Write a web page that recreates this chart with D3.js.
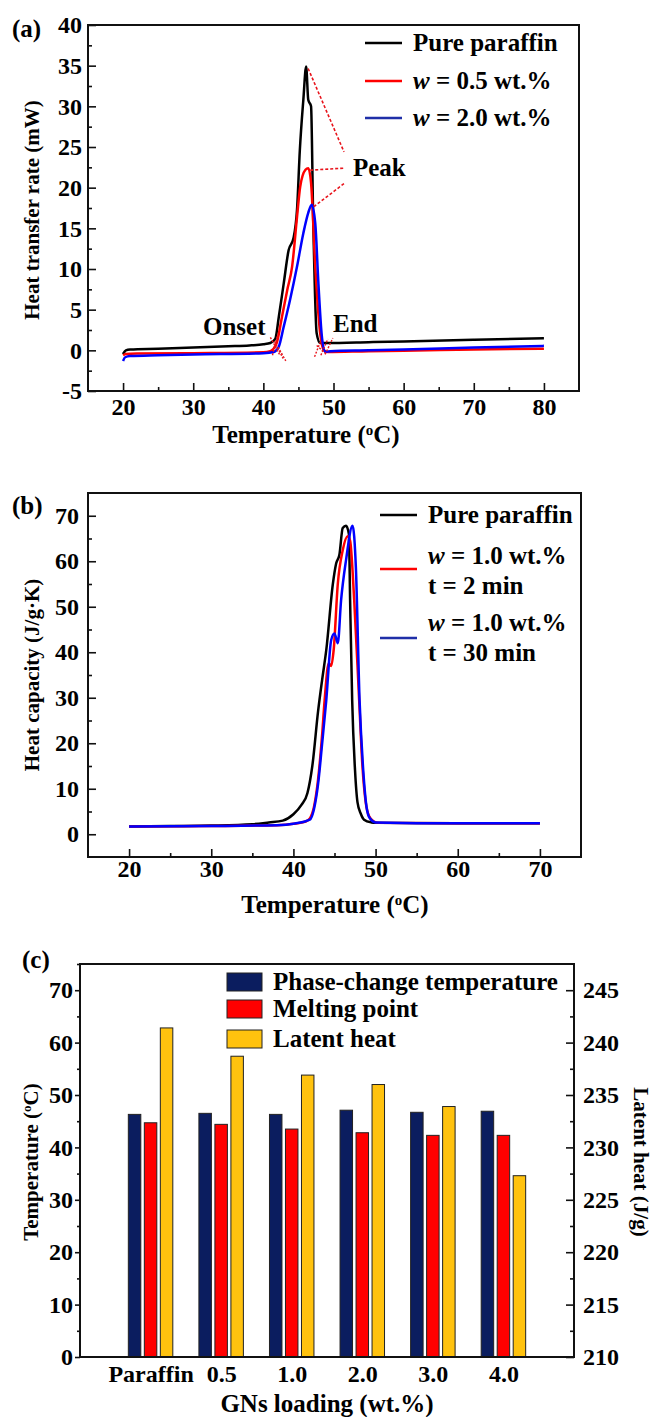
<!DOCTYPE html>
<html>
<head>
<meta charset="utf-8">
<script src="https://cdn.jsdelivr.net/npm/d3@7"></script>
<style>
  body { margin: 0; background: #fff; }
  text { font-family: "Liberation Serif", "Times New Roman", serif; font-weight: bold; fill: #000; }
</style>
</head>
<body>
<svg id="canvas"></svg>
<script>
// ---- data ----
// (a) heat transfer rate (mW) vs temperature (C)
const pureA = [[20,-0.45],[20.4,0.0],[21,0.1],[25,0.2],[30,0.35],[35,0.5],[38,0.6],[40,0.75],[41,0.9],[41.7,1.4],[42.2,4.1],[42.9,8.2],[43.6,12.3],[44.3,13.8],[44.8,17.3],[45.2,24.6],[45.7,30.8],[46.1,34.9],[46.4,30.8],[46.8,30],[47.1,16.4],[47.6,2.1],[48.1,0.9],[49,0.9],[55,1.0],[60,1.1],[70,1.3],[80,1.5]];
const w05A = [[20,-0.6],[20.4,-0.45],[22,-0.4],[30,-0.35],[40,-0.25],[41,-0.1],[41.9,0.9],[42.65,4.1],[43.4,7.4],[44.1,10.3],[44.8,16.4],[45.25,20.1],[46.0,22.2],[46.4,22.4],[46.8,20.6],[47.4,10.3],[48.1,2.1],[48.65,0],[49.2,-0.2],[55,-0.1],[60,-0.05],[70,0.1],[80,0.2]];
const w20A = [[20,-1.3],[20.3,-0.85],[21,-0.7],[25,-0.6],[30,-0.5],[40,-0.35],[41.5,-0.2],[42.2,0.45],[42.9,2.9],[43.8,6.2],[44.8,10.3],[45.7,14.4],[46.4,16.9],[46.9,17.9],[47.4,15.6],[47.85,8.2],[48.3,2.1],[48.8,-0.2],[49.5,-0.1],[55,0],[60,0.1],[70,0.35],[80,0.55]];
const peakEndsA = [[51.5,24.4],[51.5,22.4],[51.5,20.5]];
const onsetHatch = [[[41.0,1.6],[42.3,-0.5]],[[41.6,1.1],[42.8,-1.0]],[[42.1,0.4],[43.2,-1.3]],[[41.3,-0.6],[42.0,1.8]]];
const endHatch = [[[47.3,-0.8],[48.1,1.0]],[[48.2,-0.6],[49.2,1.4]],[[48.8,-0.5],[49.9,1.5]],[[47.6,0.6],[48.9,-0.4]]];

// (b) heat capacity (J/g.K) vs temperature (C)
const pureB = [[20,1.7],[25,1.8],[30,1.9],[35,2.2],[37,2.6],[38.7,3.0],[40,4.4],[41,6.5],[41.7,9],[42.3,15],[43,27],[43.5,34],[44,40.5],[44.8,55],[45.2,59.5],[45.6,61.5],[46,67.3],[46.4,67.8],[46.75,66],[46.9,51.4],[47.15,29.5],[47.5,14],[47.8,7],[48.2,4.5],[48.6,3.2],[49.5,2.6],[50,2.5],[60,2.4],[70,2.4]];
const t2B = [[20,1.7],[30,1.8],[38,2.0],[40,2.3],[41.5,2.8],[42,3.5],[42.5,6],[43,12],[43.5,22],[43.8,29.5],[44.3,37.6],[44.6,37.0],[44.9,40.5],[45.4,55],[46,62.4],[46.6,65.5],[46.9,64.5],[47.4,51.4],[48,29.5],[48.4,15],[48.8,7],[49.2,4],[49.8,2.8],[50.5,2.5],[60,2.4],[70,2.4]];
const t30B = [[20,1.7],[30,1.8],[38,2.0],[40,2.3],[42,3.2],[42.5,5.5],[43,11],[43.5,20],[44,29.5],[44.6,42.7],[45.0,44.1],[45.4,42],[45.8,51.4],[46.4,60.2],[47.2,67.8],[47.6,58.7],[48.05,29.5],[48.5,14],[48.9,6],[49.3,3.5],[50,2.6],[60,2.4],[70,2.4]];

// (c) bars
const loadings = ["Paraffin", "0.5", "1.0", "2.0", "3.0", "4.0"];
const phaseTemp = [46.3, 46.5, 46.3, 47.1, 46.7, 46.9];
const meltPoint = [44.7, 44.4, 43.5, 42.8, 42.3, 42.3];
const latentHeat = [241.4, 238.7, 236.9, 236.0, 233.9, 227.3];

// ---- drawing ----
const W = 654, H = 1417;
const svg = d3.select("#canvas").attr("width", W).attr("height", H);
const FS = 24;   // tick labels
const LFS = 25;  // legends, notes

function cleanAxis(g) {
	g.select(".domain").remove();
	g.selectAll("text").style("font-size", FS + "px").style("font-family", null);
	g.selectAll("line").attr("stroke", "#111").attr("stroke-width", 1.6);
}

function box(x, y) {
	svg.append("rect")
		.attr("x", x.range()[0]).attr("y", y.range()[1])
		.attr("width", x.range()[1] - x.range()[0])
		.attr("height", y.range()[0] - y.range()[1])
		.attr("fill", "none").attr("stroke", "#111").attr("stroke-width", 2);
}

function tempTitle(sel, cx, baseline, size) {
	const t = sel.append("text").attr("x", cx).attr("y", baseline)
		.attr("text-anchor", "middle").style("font-size", size + "px");
	t.append("tspan").text("Temperature (");
	t.append("tspan").attr("baseline-shift", "super").style("font-size", (size * 0.6) + "px").text("o");
	t.append("tspan").text("C)");
	return t;
}

function wLabel(sel, x, y, rest) {
	const t = sel.append("text").attr("x", x).attr("y", y).style("font-size", LFS + "px");
	t.append("tspan").style("font-style", "italic").text("w");
	t.append("tspan").text(rest);
	return t;
}

function curveAxes(x, y, xMajor, xMinor, yMajor, yMinor, padX, padY) {
	const y0 = y.range()[0], x0 = x.range()[0];
	svg.append("g").attr("transform", `translate(0,${y0})`)
		.call(d3.axisBottom(x).tickValues(xMajor).tickSizeInner(-8).tickSizeOuter(0).tickPadding(padX).tickFormat(d => String(d)))
		.call(cleanAxis);
	svg.append("g").attr("transform", `translate(0,${y0})`)
		.call(d3.axisBottom(x).tickValues(xMinor).tickSizeInner(-4).tickSizeOuter(0).tickFormat(""))
		.call(cleanAxis);
	svg.append("g").attr("transform", `translate(${x0},0)`)
		.call(d3.axisLeft(y).tickValues(yMajor).tickSizeInner(-8).tickSizeOuter(0).tickPadding(padY).tickFormat(d => String(d)))
		.call(cleanAxis);
	svg.append("g").attr("transform", `translate(${x0},0)`)
		.call(d3.axisLeft(y).tickValues(yMinor).tickSizeInner(-4).tickSizeOuter(0).tickFormat(""))
		.call(cleanAxis);
	box(x, y);
}

// ===== (a) =====
const xA = d3.scaleLinear().domain([15, 85]).range([88, 579]);
const yA = d3.scaleLinear().domain([-5, 40]).range([391, 25]);
curveAxes(xA, yA, d3.range(20, 81, 10), d3.range(25, 76, 10), d3.range(-5, 41, 5), d3.range(-2.5, 38, 5), 7, 6);

const lineA = d3.line().x(d => xA(d[0])).y(d => yA(d[1])).curve(d3.curveMonotoneX);
const seriesA = [
	{data: pureA, color: "#000"},
	{data: w05A, color: "#ff0000"},
	{data: w20A, color: "#0000ff"}
];
svg.selectAll(".lineA").data(seriesA).enter().append("path")
	.attr("class", "lineA")
	.attr("d", d => lineA(d.data))
	.attr("fill", "none").attr("stroke", d => d.color).attr("stroke-width", 2.5);

// peak / onset / end annotations
seriesA.forEach((s, i) => {
	const pk = s.data.reduce((a, b) => b[1] > a[1] ? b : a);
	svg.append("line")
		.attr("x1", xA(pk[0]) + 2).attr("y1", yA(pk[1]) + 2)
		.attr("x2", xA(peakEndsA[i][0])).attr("y2", yA(peakEndsA[i][1]))
		.attr("stroke", "#e8141c").attr("stroke-width", 1.6).attr("stroke-dasharray", "3,2");
});
onsetHatch.concat(endHatch).forEach(seg => {
	svg.append("line")
		.attr("x1", xA(seg[0][0])).attr("y1", yA(seg[0][1]))
		.attr("x2", xA(seg[1][0])).attr("y2", yA(seg[1][1]))
		.attr("stroke", "#e8141c").attr("stroke-width", 1.4).attr("stroke-dasharray", "2,1.5");
});
svg.append("text").attr("x", 353).attr("y", 176).style("font-size", LFS + "px").text("Peak");
svg.append("text").attr("x", 203).attr("y", 335).style("font-size", LFS + "px").text("Onset");
svg.append("text").attr("x", 333).attr("y", 332).style("font-size", LFS + "px").text("End");

// legend (a)
const legA = [
	{y: 43, color: "#000", main: "Pure paraffin"},
	{y: 81, color: "#ff0000", w: " = 0.5 wt.%"},
	{y: 118, color: "#1f2fa8", w: " = 2.0 wt.%"}
];
legA.forEach(d => {
	svg.append("line").attr("x1", 365).attr("x2", 402).attr("y1", d.y).attr("y2", d.y)
		.attr("stroke", d.color).attr("stroke-width", 2.5);
	if (d.main) svg.append("text").attr("x", 413).attr("y", d.y + 8).style("font-size", LFS + "px").text(d.main);
	else wLabel(svg, 413, d.y + 8, d.w);
});

svg.append("text").attr("transform", "translate(39,210) rotate(-90)")
	.attr("text-anchor", "middle").style("font-size", "21px").text("Heat transfer rate (mW)");
tempTitle(svg, 306, 443, 25);
svg.append("text").attr("x", 12).attr("y", 37).style("font-size", LFS + "px").text("(a)");

// ===== (b) =====
const xB = d3.scaleLinear().domain([15, 75]).range([88, 581]);
const yB = d3.scaleLinear().domain([-5, 75]).range([857, 493]);
curveAxes(xB, yB, d3.range(20, 71, 10), d3.range(25, 66, 10), d3.range(0, 71, 10), d3.range(5, 66, 10), 3, 9);

const lineB = d3.line().x(d => xB(d[0])).y(d => yB(d[1])).curve(d3.curveMonotoneX);
const seriesB = [
	{data: pureB, color: "#000"},
	{data: t2B, color: "#ff0000"},
	{data: t30B, color: "#0000ff"}
];
svg.selectAll(".lineB").data(seriesB).enter().append("path")
	.attr("class", "lineB")
	.attr("d", d => lineB(d.data))
	.attr("fill", "none").attr("stroke", d => d.color).attr("stroke-width", 2.5);

// legend (b)
svg.append("line").attr("x1", 380).attr("x2", 417).attr("y1", 515).attr("y2", 515).attr("stroke", "#000").attr("stroke-width", 2.5);
svg.append("text").attr("x", 428).attr("y", 523).style("font-size", LFS + "px").text("Pure paraffin");
svg.append("line").attr("x1", 380).attr("x2", 417).attr("y1", 569).attr("y2", 569).attr("stroke", "#ff0000").attr("stroke-width", 2.5);
wLabel(svg, 428, 564, " = 1.0 wt.%");
svg.append("text").attr("x", 428).attr("y", 594).style("font-size", LFS + "px").text("t = 2 min");
svg.append("line").attr("x1", 380).attr("x2", 417).attr("y1", 638).attr("y2", 638).attr("stroke", "#1f2fa8").attr("stroke-width", 2.5);
wLabel(svg, 428, 631, " = 1.0 wt.%");
svg.append("text").attr("x", 428).attr("y", 661).style("font-size", LFS + "px").text("t = 30 min");

svg.append("text").attr("transform", "translate(39,675) rotate(-90)")
	.attr("text-anchor", "middle").style("font-size", "21px").text("Heat capacity (J/g\u00b7K)");
tempTitle(svg, 335, 913, 25);
svg.append("text").attr("x", 12).attr("y", 514).style("font-size", LFS + "px").text("(b)");

// ===== (c) =====
const xC = d3.scalePoint().domain(loadings).range([80, 574]).padding(1);
const yC = d3.scaleLinear().domain([0, 75]).range([1357, 964]);
const yC2 = d3.scaleLinear().domain([210, 247.5]).range([1357, 964]);
const keys = ["phase", "melt", "latent"];
const sub = d3.scaleBand().domain(keys).range([-24, 24]).paddingInner(0.22).paddingOuter(0.11);
const barColor = {phase: "#0b1d5f", melt: "#ff0000", latent: "#ffc20e"};

const rows = loadings.map((c, i) => ({cat: c, phase: phaseTemp[i], melt: meltPoint[i], latent: latentHeat[i]}));
const grp = svg.selectAll(".grp").data(rows).enter().append("g")
	.attr("class", "grp").attr("transform", d => `translate(${xC(d.cat)},0)`);
keys.forEach(k => {
	grp.append("rect")
		.attr("x", sub(k)).attr("width", sub.bandwidth())
		.attr("y", d => k === "latent" ? yC2(d[k]) : yC(d[k]))
		.attr("height", d => k === "latent" ? yC2(210) - yC2(d[k]) : yC(0) - yC(d[k]))
		.attr("fill", barColor[k]).attr("stroke", "#222").attr("stroke-width", 1);
});

svg.append("g").attr("transform", "translate(0,1357)")
	.call(d3.axisBottom(xC).tickSize(0).tickPadding(8)).call(cleanAxis);
svg.append("g").attr("transform", "translate(80,0)")
	.call(d3.axisLeft(yC).tickValues(d3.range(0, 71, 10)).tickSizeInner(5).tickSizeOuter(0).tickPadding(2)).call(cleanAxis);
svg.append("g").attr("transform", "translate(80,0)")
	.call(d3.axisLeft(yC).tickValues(d3.range(5, 76, 10)).tickSizeInner(3).tickSizeOuter(0).tickFormat("")).call(cleanAxis);
svg.append("g").attr("transform", "translate(574,0)")
	.call(d3.axisRight(yC2).tickValues(d3.range(210, 246, 5)).tickSizeInner(-8).tickSizeOuter(0).tickPadding(9)).call(cleanAxis);
svg.append("g").attr("transform", "translate(574,0)")
	.call(d3.axisRight(yC2).tickValues(d3.range(212.5, 246, 5)).tickSizeInner(-4).tickSizeOuter(0).tickFormat("")).call(cleanAxis);
box(d3.scaleLinear().range([80, 574]), yC);

// legend (c)
const legC = [
	{k: "phase", y: 973, label: "Phase-change temperature"},
	{k: "melt", y: 1000, label: "Melting point"},
	{k: "latent", y: 1030, label: "Latent heat"}
];
legC.forEach(d => {
	svg.append("rect").attr("x", 227).attr("y", d.y).attr("width", 35).attr("height", 18)
		.attr("fill", barColor[d.k]).attr("stroke", "#222").attr("stroke-width", 1);
	svg.append("text").attr("x", 273).attr("y", d.y + 17).style("font-size", LFS + "px").text(d.label);
});

const lt = svg.append("text").attr("transform", "translate(38,1162) rotate(-90)")
	.attr("text-anchor", "middle").style("font-size", "21px");
lt.append("tspan").text("Temperature (");
lt.append("tspan").attr("baseline-shift", "super").style("font-size", "13px").text("o");
lt.append("tspan").text("C)");
svg.append("text").attr("transform", "translate(634,1162) rotate(90)")
	.attr("text-anchor", "middle").style("font-size", "21px").text("Latent heat (J/g)");
svg.append("text").attr("x", 327).attr("y", 1412).attr("text-anchor", "middle")
	.style("font-size", "25px").text("GNs loading (wt.%)");
svg.append("text").attr("x", 22).attr("y", 968).style("font-size", LFS + "px").text("(c)");
</script>
</body>
</html>
